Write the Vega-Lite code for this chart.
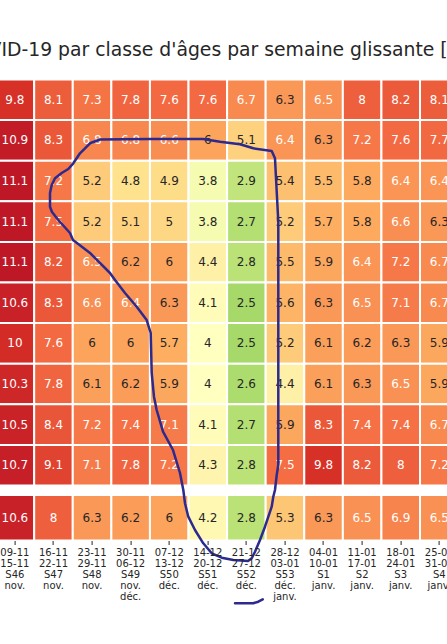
{
  "$schema": "https://vega.github.io/schema/vega-lite/v6.json",
  "autosize": {"type": "none"},
  "padding": {"left": -4.4, "top": 79.5, "right": -11.6, "bottom": 103.5},
  "width": 463,
  "height": 461,
  "background": "white",
  "title": {
    "text": "COVID-19 par classe d'âges par semaine glissante [%]",
    "anchor": "start",
    "frame": "group",
    "dx": -34.6,
    "baseline": "alphabetic",
    "offset": 4,
    "font": "DejaVu Sans",
    "fontSize": 18.8,
    "fontWeight": "normal",
    "color": "#262626"
  },
  "config": {"view": {"stroke": null}, "font": "DejaVu Sans"},
  "datasets": {
    "ages": [
      {"w":"09-11\n15-11\nS46\nnov.","a":"0-9","v":9.8},{"w":"16-11\n22-11\nS47\nnov.","a":"0-9","v":8.1},{"w":"23-11\n29-11\nS48\nnov.","a":"0-9","v":7.3},{"w":"30-11\n06-12\nS49\nnov.\ndéc.","a":"0-9","v":7.8},{"w":"07-12\n13-12\nS50\ndéc.","a":"0-9","v":7.6},{"w":"14-12\n20-12\nS51\ndéc.","a":"0-9","v":7.6},{"w":"21-12\n27-12\nS52\ndéc.","a":"0-9","v":6.7},{"w":"28-12\n03-01\nS53\ndéc.\njanv.","a":"0-9","v":6.3},{"w":"04-01\n10-01\nS1\njanv.","a":"0-9","v":6.5},{"w":"11-01\n17-01\nS2\njanv.","a":"0-9","v":8},{"w":"18-01\n24-01\nS3\njanv.","a":"0-9","v":8.2},{"w":"25-01\n31-01\nS4\njanv.","a":"0-9","v":8.1},
      {"w":"09-11\n15-11\nS46\nnov.","a":"10-19","v":10.9},{"w":"16-11\n22-11\nS47\nnov.","a":"10-19","v":8.3},{"w":"23-11\n29-11\nS48\nnov.","a":"10-19","v":6.8},{"w":"30-11\n06-12\nS49\nnov.\ndéc.","a":"10-19","v":6.8},{"w":"07-12\n13-12\nS50\ndéc.","a":"10-19","v":6.6},{"w":"14-12\n20-12\nS51\ndéc.","a":"10-19","v":6},{"w":"21-12\n27-12\nS52\ndéc.","a":"10-19","v":5.1},{"w":"28-12\n03-01\nS53\ndéc.\njanv.","a":"10-19","v":6.4},{"w":"04-01\n10-01\nS1\njanv.","a":"10-19","v":6.3},{"w":"11-01\n17-01\nS2\njanv.","a":"10-19","v":7.2},{"w":"18-01\n24-01\nS3\njanv.","a":"10-19","v":7.6},{"w":"25-01\n31-01\nS4\njanv.","a":"10-19","v":7.7},
      {"w":"09-11\n15-11\nS46\nnov.","a":"20-29","v":11.1},{"w":"16-11\n22-11\nS47\nnov.","a":"20-29","v":7.2},{"w":"23-11\n29-11\nS48\nnov.","a":"20-29","v":5.2},{"w":"30-11\n06-12\nS49\nnov.\ndéc.","a":"20-29","v":4.8},{"w":"07-12\n13-12\nS50\ndéc.","a":"20-29","v":4.9},{"w":"14-12\n20-12\nS51\ndéc.","a":"20-29","v":3.8},{"w":"21-12\n27-12\nS52\ndéc.","a":"20-29","v":2.9},{"w":"28-12\n03-01\nS53\ndéc.\njanv.","a":"20-29","v":5.4},{"w":"04-01\n10-01\nS1\njanv.","a":"20-29","v":5.5},{"w":"11-01\n17-01\nS2\njanv.","a":"20-29","v":5.8},{"w":"18-01\n24-01\nS3\njanv.","a":"20-29","v":6.4},{"w":"25-01\n31-01\nS4\njanv.","a":"20-29","v":6.4},
      {"w":"09-11\n15-11\nS46\nnov.","a":"30-39","v":11.1},{"w":"16-11\n22-11\nS47\nnov.","a":"30-39","v":7.5},{"w":"23-11\n29-11\nS48\nnov.","a":"30-39","v":5.2},{"w":"30-11\n06-12\nS49\nnov.\ndéc.","a":"30-39","v":5.1},{"w":"07-12\n13-12\nS50\ndéc.","a":"30-39","v":5},{"w":"14-12\n20-12\nS51\ndéc.","a":"30-39","v":3.8},{"w":"21-12\n27-12\nS52\ndéc.","a":"30-39","v":2.7},{"w":"28-12\n03-01\nS53\ndéc.\njanv.","a":"30-39","v":5.2},{"w":"04-01\n10-01\nS1\njanv.","a":"30-39","v":5.7},{"w":"11-01\n17-01\nS2\njanv.","a":"30-39","v":5.8},{"w":"18-01\n24-01\nS3\njanv.","a":"30-39","v":6.6},{"w":"25-01\n31-01\nS4\njanv.","a":"30-39","v":6.3},
      {"w":"09-11\n15-11\nS46\nnov.","a":"40-49","v":11.1},{"w":"16-11\n22-11\nS47\nnov.","a":"40-49","v":8.2},{"w":"23-11\n29-11\nS48\nnov.","a":"40-49","v":6.5},{"w":"30-11\n06-12\nS49\nnov.\ndéc.","a":"40-49","v":6.2},{"w":"07-12\n13-12\nS50\ndéc.","a":"40-49","v":6},{"w":"14-12\n20-12\nS51\ndéc.","a":"40-49","v":4.4},{"w":"21-12\n27-12\nS52\ndéc.","a":"40-49","v":2.8},{"w":"28-12\n03-01\nS53\ndéc.\njanv.","a":"40-49","v":5.5},{"w":"04-01\n10-01\nS1\njanv.","a":"40-49","v":5.9},{"w":"11-01\n17-01\nS2\njanv.","a":"40-49","v":6.4},{"w":"18-01\n24-01\nS3\njanv.","a":"40-49","v":7.2},{"w":"25-01\n31-01\nS4\njanv.","a":"40-49","v":6.7},
      {"w":"09-11\n15-11\nS46\nnov.","a":"50-59","v":10.6},{"w":"16-11\n22-11\nS47\nnov.","a":"50-59","v":8.3},{"w":"23-11\n29-11\nS48\nnov.","a":"50-59","v":6.6},{"w":"30-11\n06-12\nS49\nnov.\ndéc.","a":"50-59","v":6.4},{"w":"07-12\n13-12\nS50\ndéc.","a":"50-59","v":6.3},{"w":"14-12\n20-12\nS51\ndéc.","a":"50-59","v":4.1},{"w":"21-12\n27-12\nS52\ndéc.","a":"50-59","v":2.5},{"w":"28-12\n03-01\nS53\ndéc.\njanv.","a":"50-59","v":5.6},{"w":"04-01\n10-01\nS1\njanv.","a":"50-59","v":6.3},{"w":"11-01\n17-01\nS2\njanv.","a":"50-59","v":6.5},{"w":"18-01\n24-01\nS3\njanv.","a":"50-59","v":7.1},{"w":"25-01\n31-01\nS4\njanv.","a":"50-59","v":6.7},
      {"w":"09-11\n15-11\nS46\nnov.","a":"60-69","v":10},{"w":"16-11\n22-11\nS47\nnov.","a":"60-69","v":7.6},{"w":"23-11\n29-11\nS48\nnov.","a":"60-69","v":6},{"w":"30-11\n06-12\nS49\nnov.\ndéc.","a":"60-69","v":6},{"w":"07-12\n13-12\nS50\ndéc.","a":"60-69","v":5.7},{"w":"14-12\n20-12\nS51\ndéc.","a":"60-69","v":4},{"w":"21-12\n27-12\nS52\ndéc.","a":"60-69","v":2.5},{"w":"28-12\n03-01\nS53\ndéc.\njanv.","a":"60-69","v":5.2},{"w":"04-01\n10-01\nS1\njanv.","a":"60-69","v":6.1},{"w":"11-01\n17-01\nS2\njanv.","a":"60-69","v":6.2},{"w":"18-01\n24-01\nS3\njanv.","a":"60-69","v":6.3},{"w":"25-01\n31-01\nS4\njanv.","a":"60-69","v":5.9},
      {"w":"09-11\n15-11\nS46\nnov.","a":"70-79","v":10.3},{"w":"16-11\n22-11\nS47\nnov.","a":"70-79","v":7.8},{"w":"23-11\n29-11\nS48\nnov.","a":"70-79","v":6.1},{"w":"30-11\n06-12\nS49\nnov.\ndéc.","a":"70-79","v":6.2},{"w":"07-12\n13-12\nS50\ndéc.","a":"70-79","v":5.9},{"w":"14-12\n20-12\nS51\ndéc.","a":"70-79","v":4},{"w":"21-12\n27-12\nS52\ndéc.","a":"70-79","v":2.6},{"w":"28-12\n03-01\nS53\ndéc.\njanv.","a":"70-79","v":4.4},{"w":"04-01\n10-01\nS1\njanv.","a":"70-79","v":6.1},{"w":"11-01\n17-01\nS2\njanv.","a":"70-79","v":6.3},{"w":"18-01\n24-01\nS3\njanv.","a":"70-79","v":6.5},{"w":"25-01\n31-01\nS4\njanv.","a":"70-79","v":5.9},
      {"w":"09-11\n15-11\nS46\nnov.","a":"80-89","v":10.5},{"w":"16-11\n22-11\nS47\nnov.","a":"80-89","v":8.4},{"w":"23-11\n29-11\nS48\nnov.","a":"80-89","v":7.2},{"w":"30-11\n06-12\nS49\nnov.\ndéc.","a":"80-89","v":7.4},{"w":"07-12\n13-12\nS50\ndéc.","a":"80-89","v":7.1},{"w":"14-12\n20-12\nS51\ndéc.","a":"80-89","v":4.1},{"w":"21-12\n27-12\nS52\ndéc.","a":"80-89","v":2.7},{"w":"28-12\n03-01\nS53\ndéc.\njanv.","a":"80-89","v":5.9},{"w":"04-01\n10-01\nS1\njanv.","a":"80-89","v":8.3},{"w":"11-01\n17-01\nS2\njanv.","a":"80-89","v":7.4},{"w":"18-01\n24-01\nS3\njanv.","a":"80-89","v":7.4},{"w":"25-01\n31-01\nS4\njanv.","a":"80-89","v":6.7},
      {"w":"09-11\n15-11\nS46\nnov.","a":"90+","v":10.7},{"w":"16-11\n22-11\nS47\nnov.","a":"90+","v":9.1},{"w":"23-11\n29-11\nS48\nnov.","a":"90+","v":7.1},{"w":"30-11\n06-12\nS49\nnov.\ndéc.","a":"90+","v":7.8},{"w":"07-12\n13-12\nS50\ndéc.","a":"90+","v":7.2},{"w":"14-12\n20-12\nS51\ndéc.","a":"90+","v":4.3},{"w":"21-12\n27-12\nS52\ndéc.","a":"90+","v":2.8},{"w":"28-12\n03-01\nS53\ndéc.\njanv.","a":"90+","v":7.5},{"w":"04-01\n10-01\nS1\njanv.","a":"90+","v":9.8},{"w":"11-01\n17-01\nS2\njanv.","a":"90+","v":8.2},{"w":"18-01\n24-01\nS3\njanv.","a":"90+","v":8},{"w":"25-01\n31-01\nS4\njanv.","a":"90+","v":7.2}
    ],
    "total": [
      {"w":"09-11\n15-11\nS46\nnov.","a":"Tous âges","v":10.6},{"w":"16-11\n22-11\nS47\nnov.","a":"Tous âges","v":8},{"w":"23-11\n29-11\nS48\nnov.","a":"Tous âges","v":6.3},{"w":"30-11\n06-12\nS49\nnov.\ndéc.","a":"Tous âges","v":6.2},{"w":"07-12\n13-12\nS50\ndéc.","a":"Tous âges","v":6},{"w":"14-12\n20-12\nS51\ndéc.","a":"Tous âges","v":4.2},{"w":"21-12\n27-12\nS52\ndéc.","a":"Tous âges","v":2.8},{"w":"28-12\n03-01\nS53\ndéc.\njanv.","a":"Tous âges","v":5.3},{"w":"04-01\n10-01\nS1\njanv.","a":"Tous âges","v":6.3},{"w":"11-01\n17-01\nS2\njanv.","a":"Tous âges","v":6.5},{"w":"18-01\n24-01\nS3\njanv.","a":"Tous âges","v":6.9},{"w":"25-01\n31-01\nS4\njanv.","a":"Tous âges","v":6.5}
    ],
    "trace": [
      {"p":"a","i":1,"c":2.706,"r":1.478},{"p":"a","i":2,"c":4.002,"r":1.466},{"p":"a","i":3,"c":5.375,"r":1.466},{"p":"a","i":4,"c":5.816,"r":1.532},{"p":"a","i":5,"c":6.334,"r":1.596},{"p":"a","i":6,"c":6.679,"r":1.695},{"p":"a","i":7,"c":7.156,"r":1.761},{"p":"a","i":8,"c":7.241,"r":1.941},{"p":"a","i":9,"c":7.286,"r":2.764},{"p":"a","i":10,"c":7.327,"r":3.502},{"p":"a","i":11,"c":7.327,"r":5.431},{"p":"a","i":12,"c":7.327,"r":7.155},{"p":"a","i":13,"c":7.327,"r":9.495},{"p":"a","i":14,"c":7.286,"r":9.741},{"p":"a","i":15,"c":7.241,"r":10.111},{"p":"a","i":16,"c":7.197,"r":10.276},{"p":"a","i":17,"c":7.156,"r":10.522},{"p":"a","i":18,"c":6.982,"r":11.015},{"p":"a","i":19,"c":6.853,"r":11.342},{"p":"a","i":20,"c":6.723,"r":11.631},{"p":"a","i":21,"c":6.638,"r":11.793},{"p":"a","i":22,"c":6.542,"r":11.86},{"p":"a","i":23,"c":6.161,"r":11.835},{"p":"a","i":24,"c":5.86,"r":11.778},{"p":"a","i":25,"c":5.601,"r":11.67},{"p":"a","i":26,"c":5.383,"r":11.424},{"p":"a","i":27,"c":5.168,"r":11.096},{"p":"a","i":28,"c":4.994,"r":10.768},{"p":"a","i":29,"c":4.909,"r":10.438},{"p":"a","i":30,"c":4.865,"r":10.111},{"p":"a","i":31,"c":4.779,"r":9.692},{"p":"a","i":32,"c":4.598,"r":9.126},{"p":"a","i":33,"c":4.339,"r":8.675},{"p":"a","i":34,"c":4.175,"r":8.14},{"p":"a","i":35,"c":4.105,"r":7.813},{"p":"a","i":36,"c":4.046,"r":7.229},{"p":"a","i":37,"c":4.02,"r":6.244},{"p":"a","i":38,"c":3.916,"r":5.924},{"p":"a","i":39,"c":3.657,"r":5.596},{"p":"a","i":40,"c":3.354,"r":5.259},{"p":"a","i":41,"c":3.095,"r":4.938},{"p":"a","i":42,"c":2.965,"r":4.766},{"p":"a","i":43,"c":2.447,"r":4.273},{"p":"a","i":44,"c":2.006,"r":3.953},{"p":"a","i":45,"c":1.928,"r":3.781},{"p":"a","i":46,"c":1.625,"r":3.461},{"p":"a","i":47,"c":1.462,"r":3.264},{"p":"a","i":48,"c":1.41,"r":3.133},{"p":"a","i":49,"c":1.41,"r":2.796},{"p":"a","i":50,"c":1.454,"r":2.599},{"p":"a","i":51,"c":1.54,"r":2.433},{"p":"a","i":52,"c":1.713,"r":2.303},{"p":"a","i":53,"c":1.884,"r":2.204},{"p":"a","i":54,"c":2.014,"r":2.064},{"p":"a","i":55,"c":2.187,"r":1.818},{"p":"a","i":56,"c":2.447,"r":1.571},{"p":"a","i":57,"c":2.706,"r":1.478},
      {"p":"b","i":1,"c":6.205,"r":12.901},{"p":"b","i":2,"c":6.679,"r":12.901},{"p":"b","i":3,"c":6.809,"r":12.862},{"p":"b","i":4,"c":6.923,"r":12.803}
    ]
  },
  "layer": [
    {
      "data": {"name": "ages"},
      "encoding": {
        "x": {"field": "w", "type": "nominal", "sort": null, "scale": {"paddingInner": 0, "paddingOuter": 0}, "axis": null},
        "y": {"field": "a", "type": "ordinal", "sort": null, "scale": {"range": [0, 406], "paddingInner": 0, "paddingOuter": 0}, "axis": null}
      },
      "layer": [
        {
          "mark": {"type": "rect", "stroke": "white", "strokeWidth": 2},
          "encoding": {
            "color": {"field": "v", "type": "quantitative", "legend": null,
              "scale": {"type": "linear", "interpolate": "rgb",
                "domain": [1.75, 2.5, 3.25, 4, 4.85, 5.7, 7.5, 9.8, 12.4],
                "range": ["#66bd63", "#a6d96a", "#d9ef8b", "#ffffbf", "#fee08b", "#fdae61", "#f46d43", "#d73027", "#a50026"]}}
          }
        },
        {
          "mark": {"type": "text", "font": "DejaVu Sans", "fontSize": 12, "baseline": "middle"},
          "encoding": {
            "text": {"field": "v", "type": "quantitative"},
            "color": {"condition": {"test": "datum.v >= 6.35", "value": "white"}, "value": "#262626"}
          }
        }
      ]
    },
    {
      "data": {"name": "total"},
      "encoding": {
        "x": {"field": "w", "type": "nominal", "sort": null, "scale": {"paddingInner": 0, "paddingOuter": 0},
          "axis": {"orient": "bottom", "title": null, "domain": false, "grid": false, "ticks": true, "tickSize": 4, "tickColor": "#262626", "tickWidth": 1,
            "labelAngle": 0, "labelFont": "DejaVu Sans", "labelFontSize": 10, "labelColor": "#262626", "labelPadding": 3, "labelLineHeight": 11,
            "labelOverlap": false, "labelBound": false, "labelExpr": "split(datum.value, '\\n')"}},
        "y": {"field": "a", "type": "ordinal", "sort": null, "scale": {"range": [415.5, 461], "paddingInner": 0, "paddingOuter": 0}, "axis": null}
      },
      "layer": [
        {
          "mark": {"type": "rect", "stroke": "white", "strokeWidth": 2},
          "encoding": {
            "color": {"field": "v", "type": "quantitative", "legend": null,
              "scale": {"type": "linear", "interpolate": "rgb",
                "domain": [1.75, 2.5, 3.25, 4, 4.85, 5.7, 7.5, 9.8, 12.4],
                "range": ["#66bd63", "#a6d96a", "#d9ef8b", "#ffffbf", "#fee08b", "#fdae61", "#f46d43", "#d73027", "#a50026"]}}
          }
        },
        {
          "mark": {"type": "text", "font": "DejaVu Sans", "fontSize": 12, "baseline": "middle"},
          "encoding": {
            "text": {"field": "v", "type": "quantitative"},
            "color": {"condition": {"test": "datum.v >= 6.35", "value": "white"}, "value": "#262626"}
          }
        }
      ]
    },
    {
      "data": {"name": "trace"},
      "mark": {"type": "line", "color": "#2c2a8e", "strokeWidth": 2.5, "strokeCap": "round", "strokeJoin": "round", "clip": false},
      "encoding": {
        "x": {"field": "c", "type": "quantitative", "scale": {"domain": [0, 12], "range": [0, 463], "nice": false, "zero": false}, "axis": null},
        "y": {"field": "r", "type": "quantitative", "scale": {"domain": [0, 10], "range": [0, 406], "nice": false, "zero": false}, "axis": null},
        "detail": {"field": "p", "type": "nominal"},
        "order": {"field": "i", "type": "quantitative"}
      }
    }
  ],
  "resolve": {"scale": {"x": "independent", "y": "independent"}}
}
